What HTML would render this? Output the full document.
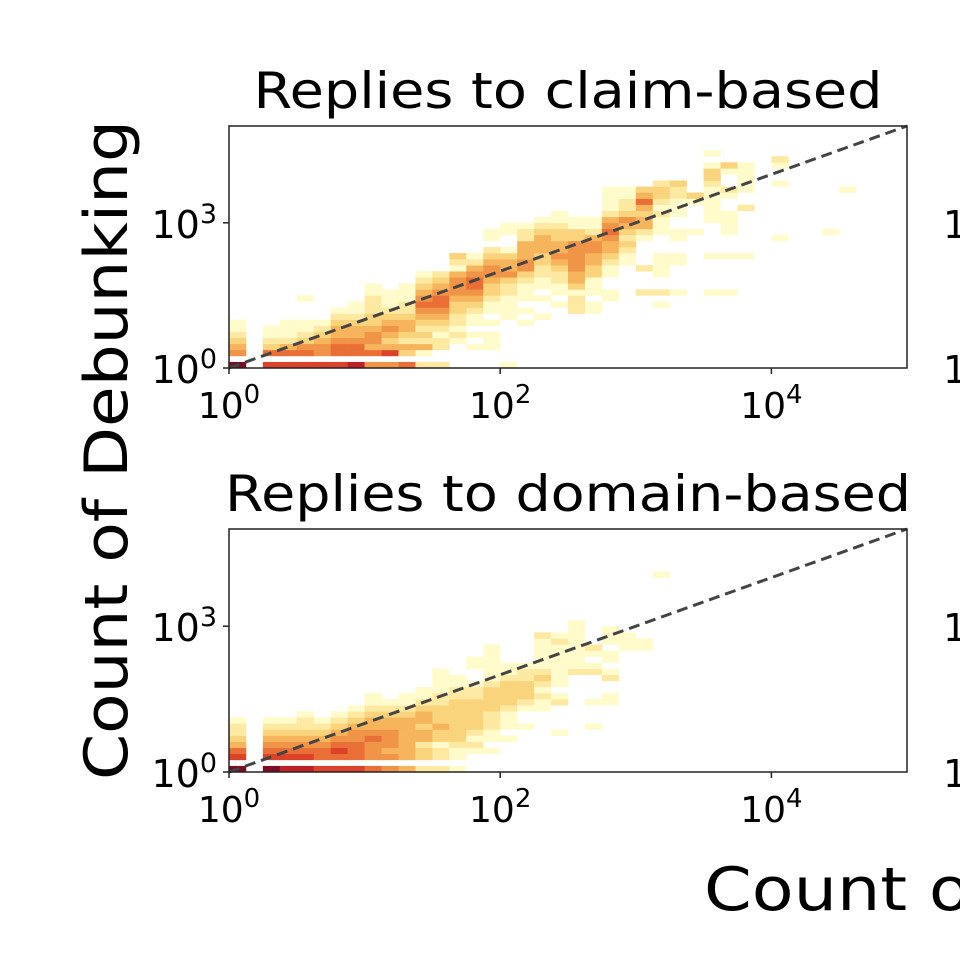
<!DOCTYPE html>
<html><head><meta charset="utf-8"><style>
html,body{margin:0;padding:0;width:960px;height:960px;overflow:hidden;background:#fff}
svg{display:block;font-family:"DejaVu Sans","Liberation Sans",sans-serif}
</style></head><body>
<svg id="chart" width="960" height="960" viewBox="0 0 960 960" xmlns="http://www.w3.org/2000/svg">
<text x="0" y="0" transform="translate(127,450) rotate(-90)" text-anchor="middle" font-size="60" textLength="660" lengthAdjust="spacingAndGlyphs" fill="#000">Count of Debunking</text>
<text x="0" y="0" transform="translate(704,910) scale(1.14,1)" font-size="60" fill="#000">Count of Misinformation</text>
</svg>
<script>
// Heatmap data: per-column strings, character index = row bin (0.125 decade), digit = intensity level
const topCols = ["90543211","","7063211","70642111","706532110001","70554321","7066544321","80665443211","50645543322211","5074345432111","60342344322111","2014232345654321","2002212345665432","0000121223345554123","0001010112345665421","00011101011233455432011","100000001111223544310011","000000010101112355444221","0000000010010112233444321","00000000001011223454433211","0000000002221344555553311","0000000001101113344554211","000000000001100112344565421111","000000000000000001123234532211","000000000000200020000124434643","0000000000102001111000111212332","0000000000001000011001100111223","00000000000000000000001000013","000000000000100000100000111111233101","0000000000001000001000111100120013","0000000000000000001000000020011111","","00000000000000000000010000000010012","","","00000000000000000000001","000000000000000000000000000001","","",""];
const bottomCols = ["907643221","","907654321","807654321","8076543221","706654321","7067654321","70666554321","6055565443211","505455544321","4044444443211","20332443443211","20221334333221111","1011233333332211","0001212333332210011","000101122233332111111","000001011123333211","000000010012333221","00000000001121232111112","00000010000210111111121","0000000000000000211111111","000000010001000021012","000000000001100210110111","00000000000000000000111","0000000000000000000011","000000000000000000000000000000001"];
const panelTitles = ["Replies to claim-based","Replies to domain-based"];
const xTickExps = [0,2,4];
const yTickExps = [0,3];
const levelColors = ["none","#fffbcb","#fde9a2","#f9d47c","#f6b55d","#f09447","#e96f37","#dc422a","#bf2026","#7c0b24"];
</script>
<script>
const NS="http://www.w3.org/2000/svg";
const svg=document.getElementById('chart');
const BIN=0.125, XMIN=0, XMAX=5, YMIN=0, YMAX=5;
function mk(tag,attrs,parent){const e=document.createElementNS(NS,tag);for(const k in attrs)e.setAttribute(k,attrs[k]);(parent||svg).appendChild(e);return e;}
function drawPanel(cols,title,left,top,w,h,name){
  const g=mk('g',{});
  
  
  const sx=v=>left+(v-XMIN)/(XMAX-XMIN)*w;
  const sy=v=>top+h-(v-YMIN)/(YMAX-YMIN)*h;
  const cells=mk('g',{},g);
  
  
  cols.forEach((s,c)=>{
    for(let r=0;r<s.length;r++){
      const v=+s[r]; if(!v) continue;
      const x0=sx(c*BIN), x1=sx((c+1)*BIN), y0=sy((r+1)*BIN), y1=sy(r*BIN);
      const rc=mk('rect',{x:x0,y:y0,width:x1-x0+0.3,height:y1-y0+0.3,fill:levelColors[v]},cells);
      
      
    }
  });
  const diag=mk('line',{x1:sx(0),y1:sy(0),x2:sx(5),y2:sy(5),stroke:'#444','stroke-width':3,'stroke-dasharray':'11,6'},g);
  
  
  const fr=mk('rect',{x:left,y:top,width:w,height:h,fill:'none',stroke:'#222','stroke-width':1.5},g);
  
  
  const t=mk('text',{x:left+w/2,y:top-18,'text-anchor':'middle','font-size':50,textLength:(title.length>22?686:629),lengthAdjust:'spacingAndGlyphs',fill:'#000'},g);
  t.textContent=title;
  
  
  xTickExps.forEach(e=>{
    const x=sx(e);
    mk('line',{x1:x,y1:top+h,x2:x,y2:top+h+6,stroke:'#222','stroke-width':1.5},g);
    const tx=mk('text',{x:x,y:top+h+50,'text-anchor':'middle','font-size':36,fill:'#000'},g);
    tx.innerHTML='10<tspan dy="-15" font-size="26">'+e+'</tspan>';
    
    
  });
  yTickExps.forEach(e=>{
    const y=sy(e);
    mk('line',{x1:left,y1:y,x2:left-6,y2:y,stroke:'#222','stroke-width':1.5},g);
    const ty=mk('text',{x:left-12,y:y+15,'text-anchor':'end','font-size':38,fill:'#000'},g);
    ty.innerHTML='10<tspan dy="-15" font-size="27">'+e+'</tspan>';
    
    
    const rt=mk('text',{x:943,y:y+15,'font-size':38,fill:'#000'},g);
    rt.innerHTML='10<tspan dy="-15" font-size="27">'+e+'</tspan>';
    
    
  });
}
drawPanel(topCols,panelTitles[0],229,126,678,242,'claim-based-panel');
drawPanel(bottomCols,panelTitles[1],229,529,678,243,'domain-based-panel');
</script>
</body></html>
